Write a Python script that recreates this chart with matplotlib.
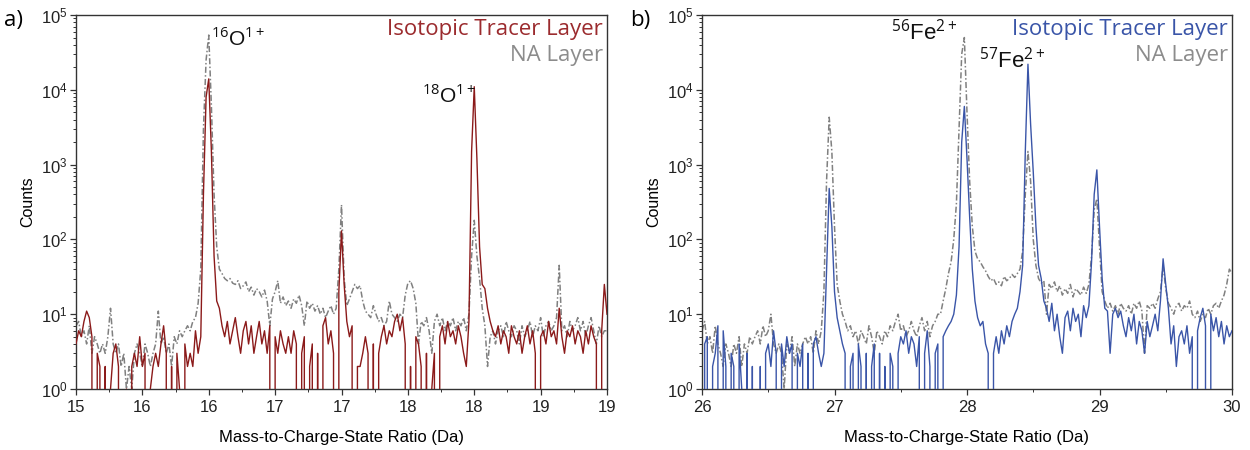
import numpy as np
import matplotlib
matplotlib.use("Agg")
import matplotlib.pyplot as plt
from matplotlib.ticker import MultipleLocator, LogLocator

plt.rcParams['font.family'] = ['Liberation Sans', 'DejaVu Sans']
plt.rcParams['mathtext.fontset'] = 'custom'
plt.rcParams['mathtext.rm'] = 'Open Sans'
plt.rcParams['mathtext.it'] = 'Open Sans:italic'
plt.rcParams['mathtext.bf'] = 'Open Sans:bold'

# ---- data: counts per 0.02 Da bin ----
start_a = 15.0
start_b = 26.0
bin_da = 0.02

# panel a, oxygen region (15.00 .. 19.00)
tracer_a = [
    4, 6, 5, 8, 11, 9, 5, 0, 3, 2,            # 15.00
    0, 2, 0, 1, 3, 4, 2, 0, 0, 1,             # 15.20
    0, 2, 3, 2, 5, 2, 3, 0, 1, 2,             # 15.40
    3, 2, 4, 7, 3, 0, 2, 0, 3, 1,             # 15.60
    0, 4, 2, 3, 2, 6, 3, 5, 400, 8000,        # 15.80
    14000, 1500, 60, 15, 12, 7, 5, 8, 4, 6,   # 16.00
    9, 5, 3, 6, 8, 4, 7, 3, 5, 8,             # 16.20
    4, 6, 3, 7, 0, 5, 3, 6, 4, 3,             # 16.40
    5, 3, 6, 4, 0, 3, 5, 0, 2, 4,             # 16.60
    0, 3, 0, 7, 9, 4, 6, 3, 0, 20,            # 16.80
    130, 25, 8, 5, 7, 0, 2, 2, 3, 5,          # 17.00
    3, 0, 4, 0, 3, 5, 7, 4, 6, 5,             # 17.20
    8, 10, 6, 9, 4, 0, 2, 0, 5, 4,            # 17.40
    2, 0, 3, 0, 1, 3, 0, 5, 7, 4,             # 17.60
    8, 5, 6, 4, 7, 5, 3, 2, 8, 1500,          # 17.80
    11000, 1200, 80, 25, 22, 12, 8, 6, 5, 7,  # 18.00
    4, 6, 5, 3, 7, 5, 4, 6, 3, 5,             # 18.20
    7, 4, 6, 3, 0, 5, 6, 4, 8, 5,             # 18.40
    6, 4, 12, 5, 3, 6, 5, 7, 4, 6,            # 18.60
    5, 3, 6, 4, 7, 5, 4, 0, 6, 25,            # 18.80
    10]                                       # 19.00

na_a = [
    7, 8, 5, 6, 4, 7, 3, 5, 4, 3,
    4, 3, 5, 12, 4, 3, 4, 2, 3, 1,
    2, 1, 3, 4, 3, 2, 4, 3, 2, 3,
    4, 11, 4, 5, 3, 4, 2, 5, 4, 6,
    5, 6, 7, 6, 8, 9, 14, 40, 3000, 25000,
    54000, 6000, 400, 80, 40, 35, 30, 28, 30, 26,
    25, 28, 22, 24, 27, 20, 23, 18, 22, 20,
    17, 21, 15, 7, 16, 20, 28, 14, 17, 13,
    15, 12, 16, 14, 18, 13, 7, 15, 12, 14,
    11, 13, 10, 12, 9, 11, 13, 10, 12, 40,
    290, 30, 13, 16, 20, 25, 22, 24, 15, 11,
    10, 9, 13, 10, 8, 9, 7, 8, 15, 10,
    9, 8, 10, 9, 18, 26, 28, 22, 14, 4,
    8, 7, 9, 6, 3, 8, 10, 7, 9, 6,
    8, 7, 9, 6, 8, 7, 9, 6, 10, 60,
    180, 60, 30, 12, 7, 2, 5, 6, 4, 6,
    7, 5, 8, 6, 5, 7, 6, 4, 7, 5,
    6, 8, 5, 7, 6, 9, 5, 7, 8, 6,
    7, 9, 45, 6, 7, 5, 8, 6, 7, 9,
    6, 8, 5, 7, 9, 6, 4, 7, 5, 6,
    6]

# panel b, iron region (26.00 .. 30.00)
tracer_b = [
    0, 4, 5, 0, 2, 3, 7, 0, 6, 2,             # 26.00
    0, 3, 2, 0, 4, 1, 0, 3, 0, 2,             # 26.20
    0, 0, 2, 0, 3, 4, 2, 6, 3, 0,             # 26.40
    4, 2, 5, 3, 4, 0, 3, 2, 4, 0,             # 26.60
    3, 0, 4, 5, 3, 2, 3, 40, 480, 150,        # 26.80
    20, 9, 6, 4, 3, 0, 2, 3, 0, 4,            # 27.00
    2, 0, 3, 0, 2, 4, 0, 3, 0, 2,             # 27.20
    0, 3, 2, 0, 3, 5, 4, 6, 3, 5,             # 27.40
    4, 2, 5, 0, 3, 6, 2, 0, 3, 4,             # 27.60
    0, 5, 6, 7, 8, 10, 18, 80, 2000, 6000,    # 27.80
    1200, 200, 40, 15, 9, 7, 8, 4, 3, 0,      # 28.00
    3, 5, 3, 6, 4, 7, 5, 8, 10, 12,           # 28.20
    20, 45, 1500, 22000, 3500, 800, 150, 45, 30, 15,  # 28.40
    12, 8, 14, 6, 10, 5, 3, 9, 11, 6,         # 28.60
    12, 8, 10, 5, 13, 9, 13, 50, 400, 850,    # 28.80
    150, 30, 12, 11, 3, 10, 12, 9, 11, 7,     # 29.00
    5, 9, 6, 10, 4, 8, 6, 3, 8, 5,            # 29.20
    7, 10, 6, 15, 55, 25, 12, 4, 7, 2,        # 29.40
    5, 6, 4, 7, 3, 5, 0, 6, 9, 12,            # 29.60
    7, 0, 10, 6, 9, 5, 8, 4, 7, 5,            # 29.80
    6]                                        # 30.00

na_b = [
    6, 8, 4, 5, 3, 7, 4, 3, 2, 4,
    3, 2, 4, 3, 5, 2, 4, 3, 5, 4,
    5, 6, 4, 7, 5, 6, 10, 4, 3, 4,
    3, 1, 4, 3, 5, 2, 4, 3, 4, 5,
    4, 5, 3, 6, 4, 6, 20, 600, 4300, 1500,
    150, 25, 15, 10, 8, 6, 7, 5, 6, 4,
    6, 5, 4, 7, 5, 3, 6, 5, 4, 6,
    5, 7, 6, 8, 10, 6, 7, 5, 6, 8,
    6, 5, 7, 9, 6, 8, 5, 7, 8, 10,
    10, 15, 22, 35, 50, 100, 300, 3000, 30000, 50000,
    5000, 600, 150, 70, 55, 50, 43, 38, 32, 28,
    30, 25, 27, 24, 32, 28, 30, 34, 31, 35,
    40, 70, 400, 1500, 600, 100, 45, 30, 26, 28,
    10, 25, 22, 27, 20, 24, 18, 22, 19, 25,
    17, 22, 20, 18, 23, 19, 25, 60, 250, 350,
    80, 20, 15, 12, 14, 11, 13, 10, 14, 12,
    11, 13, 10, 14, 12, 15, 11, 3, 13, 12,
    14, 12, 16, 20, 45, 22, 14, 12, 10, 13,
    14, 11, 13, 12, 15, 10, 9, 11, 8, 10,
    9, 12, 10, 13, 14, 12, 15, 18, 25, 40,
    35]

ticks_a = [15, 15.5, 16, 16.5, 17, 17.5, 18, 18.5, 19]
ticklabels_a = ['15', '16', '16', '17', '17', '18', '18', '19', '19']
ticks_b = [26, 27, 28, 29, 30]

peaks_a = [(r'$^{16}$O$^{1+}$', 16.02, 10**4.69),
           (r'$^{18}$O$^{1+}$', 17.61, 10**3.93)]
peaks_b = [(r'$^{56}$Fe$^{2+}$', 27.43, 10**4.77),
           (r'$^{57}$Fe$^{2+}$', 28.09, 10**4.39)]

red = '#8b1a1a'
blue = '#3a55a8'
grey = '#808080'


def mz(start, counts):
    return np.round(start + bin_da * np.arange(len(counts)), 2)


def draw(ax, start, tracer, na, color, txtcolor, tag, peaks, peaksize):
    ax.plot(mz(start, na), na, color=grey, lw=1.1, dashes=(4, 1.5, 1, 1.5), zorder=2)
    ax.plot(mz(start, tracer), tracer, color=color, lw=1.0, zorder=3)
    ax.set_yscale('log', nonpositive='clip')
    ax.set_ylim(1, 1e5)
    ax.yaxis.set_major_locator(LogLocator(base=10, numticks=10))
    ax.yaxis.set_minor_locator(LogLocator(base=10, subs=np.arange(2, 10), numticks=10))
    for s in ax.spines.values():
        s.set_color('#333333')
        s.set_linewidth(1.0)
    ax.tick_params(which='major', direction='out', length=4, width=0.9, labelsize=12,
                   pad=2, colors='#333333', labelcolor='#222222')
    ax.tick_params(axis='x', which='major', pad=4)
    ax.tick_params(which='minor', direction='out', length=2.5, width=0.7, colors='#333333')
    ax.set_ylabel('Counts', fontsize=11.5, labelpad=4)
    ax.set_xlabel('Mass-to-Charge-State Ratio (Da)', fontsize=12, labelpad=11)
    ax.text(-0.135, 0.985, tag, transform=ax.transAxes, fontsize=16, family='Open Sans',
            ha='left', va='center')
    ax.text(0.992, 0.962, 'Isotopic Tracer Layer', transform=ax.transAxes, fontsize=16,
            family='Open Sans', color=txtcolor, ha='right', va='center')
    ax.text(0.992, 0.893, 'NA Layer', transform=ax.transAxes, fontsize=16,
            family='Open Sans', color='#8c8c8c', ha='right', va='center')
    for label, x, y in peaks:
        ax.text(x, y, label, fontsize=peaksize, ha='left', va='center', color='#111111')


fig = plt.figure(figsize=(12.5, 4.5), dpi=100)
ax_a = fig.add_axes([0.0608, 0.1356, 0.4248, 0.831])
ax_b = fig.add_axes([0.5616, 0.1356, 0.4240, 0.831])

draw(ax_a, start_a, tracer_a, na_a, red, '#9b2b2e', 'a)', peaks_a, 15)
ax_a.set_xlim(15, 19)
ax_a.set_xticks(ticks_a, ticklabels_a)
ax_a.xaxis.set_minor_locator(MultipleLocator(0.25))

draw(ax_b, start_b, tracer_b, na_b, blue, '#3a55a8', 'b)', peaks_b, 16)
ax_b.set_xlim(26, 30)
ax_b.set_xticks(ticks_b)
ax_b.xaxis.set_minor_locator(MultipleLocator(0.5))

fig.savefig('out.png', dpi=100)
